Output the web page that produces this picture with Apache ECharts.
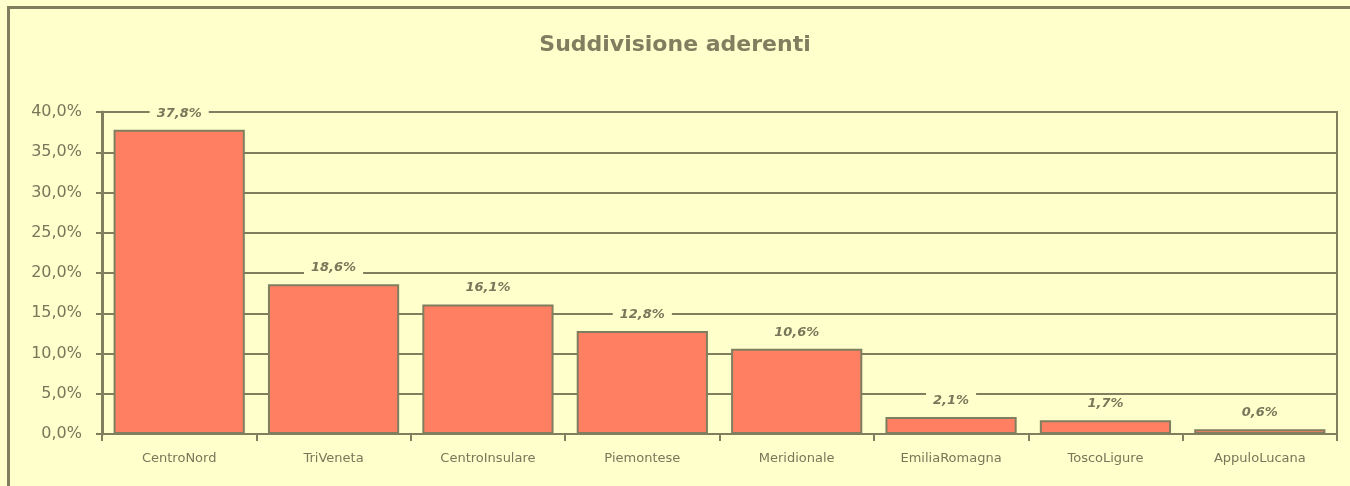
<!DOCTYPE html>
<html>
<head>
<meta charset="utf-8">
<script src="https://cdn.jsdelivr.net/npm/echarts@6/dist/echarts.min.js"></script>
<style>
html,body{margin:0;padding:0;background:#ffffcc;overflow:hidden;}
#c{width:1350px;height:486px;position:absolute;left:0;top:0;}
#frame{position:absolute;left:7px;top:6px;width:1400px;height:600px;border-left:3px solid #7f7f5f;border-top:3px solid #7f7f5f;pointer-events:none;}
</style>
</head>
<body>
<div id="c"></div>
<div id="frame"></div>
<script>
const categories = ['CentroNord','TriVeneta','CentroInsulare','Piemontese','Meridionale','EmiliaRomagna','ToscoLigure','AppuloLucana'];
const values = [37.8, 18.6, 16.1, 12.8, 10.6, 2.1, 1.7, 0.6];
const yTicks = {min: 0, max: 40, interval: 5};
const titleText = 'Suddivisione aderenti';

const olive = '#7f7f5f';
const textCol = '#77775a';
const bg = '#ffffcc';
const fmt = v => v.toFixed(1).replace('.', ',') + '%';

const chart = echarts.init(document.getElementById('c'), null, {renderer: 'canvas'});
chart.setOption({
  backgroundColor: bg,
  animation: false,
  title: {
    text: titleText,
    left: 'center',
    top: 29,
    textStyle: {fontFamily: 'DejaVu Sans', fontWeight: 'bold', fontSize: 22, color: '#7f7f60'}
  },
  grid: {left: 102, right: 13, top: 112, bottom: 52, show: true, borderColor: olive, borderWidth: 2, backgroundColor: 'transparent'},
  xAxis: {
    type: 'category',
    data: categories,
    axisLine: {lineStyle: {color: olive, width: 2}},
    axisTick: {show: true, length: 7, lineStyle: {color: olive, width: 2}},
    axisLabel: {color: textCol, fontFamily: 'DejaVu Sans', fontSize: 13, margin: 18}
  },
  yAxis: {
    type: 'value',
    min: yTicks.min, max: yTicks.max, interval: yTicks.interval,
    axisLine: {show: true, lineStyle: {color: olive, width: 3}},
    axisTick: {show: true, length: 6, lineStyle: {color: olive, width: 2}},
    splitLine: {lineStyle: {color: olive, width: 2}},
    axisLabel: {color: textCol, fontFamily: 'DejaVu Sans', fontSize: 16, margin: 20, formatter: v => fmt(v)}
  },
  series: [{
    type: 'bar',
    data: values,
    barCategoryGap: '15%',
    itemStyle: {color: '#ff7f63', borderColor: olive, borderWidth: 2},
    label: {
      show: true,
      position: 'top',
      distance: 9,
      formatter: p => fmt(p.value),
      color: textCol,
      fontFamily: 'DejaVu Sans',
      fontWeight: 'bold',
      fontStyle: 'italic',
      fontSize: 13,
      backgroundColor: bg,
      padding: [1, 7]
    }
  }]
});
</script>
</body>
</html>
